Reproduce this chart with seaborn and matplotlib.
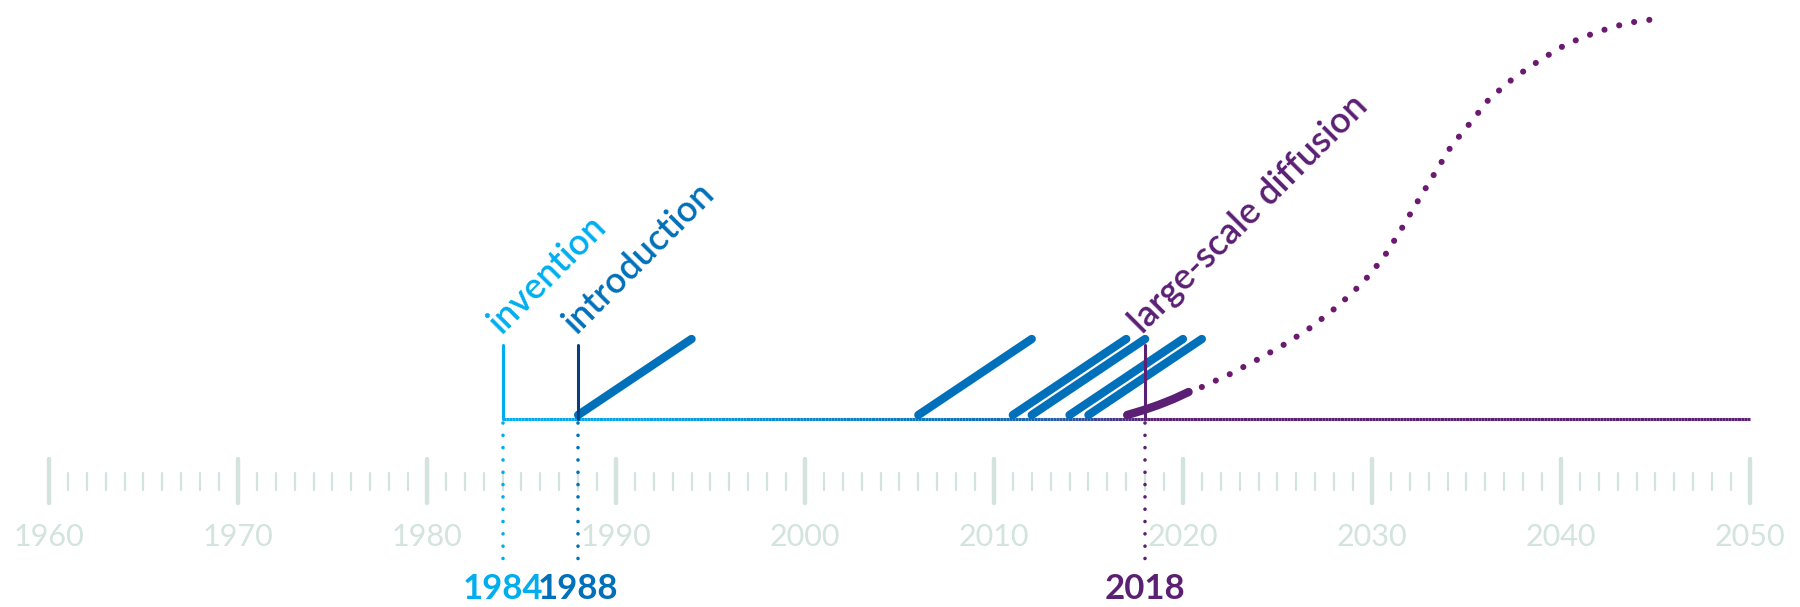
import numpy as np
import pandas as pd
import matplotlib.pyplot as plt
import seaborn as sns
from matplotlib.collections import LineCollection
from matplotlib.colors import LinearSegmentedColormap

# timeline of an innovation: invention -> introduction -> large-scale diffusion

decades = [1960, 1970, 1980, 1990, 2000, 2010, 2020, 2030, 2040, 2050]
minor_years = [y for y in range(1960, 2051) if y % 10 != 0]

milestone_years = [1984, 1988, 2018]
milestone_labels = ['invention', 'introduction', 'large-scale diffusion']

# short diagonal strokes (each ~6 years wide)
wave_starts = [1988, 2006, 2011, 2012, 2014, 2015]
wave_ends = [1994, 2012, 2017, 2018, 2020, 2021]
wave_low = 1
wave_high = 20

# diffusion curve, solid part then projected (dotted) part
diff_solid_years = [2017.05, 2017.9, 2018.7, 2019.5, 2020.3]
diff_solid_level = [1, 2.2, 3.5, 5, 6.75]
diff_proj_years = [2021.0, 2022.5, 2024.0, 2025.5, 2026.8, 2028.2, 2029.5, 2030.6,
                   2031.5, 2032.4, 2033.3, 2034.2, 2035.2, 2036.2, 2037.5, 2038.9,
                   2040.3, 2041.9, 2043.5, 2045.0]
diff_proj_level = [8, 11.25, 15, 19, 23, 28.25, 34, 40.25, 47, 54.25, 61.25, 68.25,
                   74, 80, 85.25, 89.75, 93.75, 96.75, 99, 100]

timeline_start = 1984
timeline_end = 2050

LIGHT = '#00aeef'
BLUE = '#0070ba'
NAVY = '#0a3d7e'
PURPLE = '#5b1f74'
DOTS = '#6b1a70'
GRAY = '#d3e3de'

sns.set_theme(style='white')
plt.rcParams['font.family'] = ['Lato', 'DejaVu Sans']

fig = plt.figure(figsize=(18, 6.07), dpi=100)
ax = fig.add_axes([0, 0, 1, 1])
ax.set_xlim(1957.41, 2052.65)
ax.set_ylim(-47, 104.75)
ax.axis('off')

# axis ticks
ax.vlines(minor_years, -17.75, -13.5, color=GRAY, lw=1.6, capstyle='round')
ax.vlines(decades, -21, -10, color=GRAY, lw=3.2, capstyle='round')
for d in decades:
    ax.text(d, -29.5, str(d), ha='center', va='center', fontsize=22,
            fontweight='normal', color=GRAY)

# gradient baseline
xs = np.linspace(timeline_start, timeline_end, 400)
pts = np.column_stack([xs, np.zeros_like(xs)]).reshape(-1, 1, 2)
segs = np.concatenate([pts[:-1], pts[1:]], axis=1)
cmap = LinearSegmentedColormap.from_list('tl', [
    (0.0, LIGHT), (0.12, '#05a3e3'), (0.28, '#0a82c6'), (0.38, '#0c72b8'),
    (0.45, '#2a5aa2'), (0.52, PURPLE), (1.0, PURPLE)])
lc = LineCollection(segs, cmap=cmap, linewidth=2.2, zorder=2)
lc.set_array((xs[:-1] - timeline_start) / (timeline_end - timeline_start))
lc.set_clim(0, 1)
ax.add_collection(lc)

# diagonal strokes
n = len(wave_starts)
waves = pd.DataFrame({'year': wave_starts + wave_ends,
                      'level': [wave_low] * n + [wave_high] * n,
                      'wave': list(range(n)) * 2})
sns.lineplot(data=waves, x='year', y='level', units='wave', estimator=None,
             color=BLUE, lw=6, solid_capstyle='round', ax=ax, zorder=3)

# milestone markers
mark_colors = [LIGHT, NAVY, PURPLE]
drop_colors = [LIGHT, BLUE, PURPLE]
text_colors = [LIGHT, BLUE, PURPLE]
for yr, lab, mc, dc, tc in zip(milestone_years, milestone_labels,
                               mark_colors, drop_colors, text_colors):
    ax.plot([yr, yr], [0, 18.5], color=mc, lw=2.2, zorder=4)
    ax.plot([yr, yr], [-1, -37.5], color=dc, lw=2.6, dashes=(0.01, 3.4),
            dash_capstyle='round', zorder=4)
    ax.text(yr - 0.1, 21, lab, rotation=45, rotation_mode='anchor',
            ha='left', va='baseline', fontsize=26, fontweight='semibold', color=tc)
    ax.text(yr, -42.5, str(yr), ha='center', va='center', fontsize=25,
            fontweight='bold', color=tc)

# diffusion curve
sns.lineplot(x=diff_solid_years, y=diff_solid_level, color=PURPLE, lw=6,
             solid_capstyle='round', ax=ax, zorder=5)
sns.lineplot(x=diff_proj_years, y=diff_proj_level, color=DOTS, lw=4.4,
             dashes=(0.01, 2.5), dash_capstyle='round', ax=ax, zorder=5)

ax.set_xlim(1957.41, 2052.65)
ax.set_ylim(-47, 104.75)
fig.savefig('out.png', dpi=100, facecolor='white')
